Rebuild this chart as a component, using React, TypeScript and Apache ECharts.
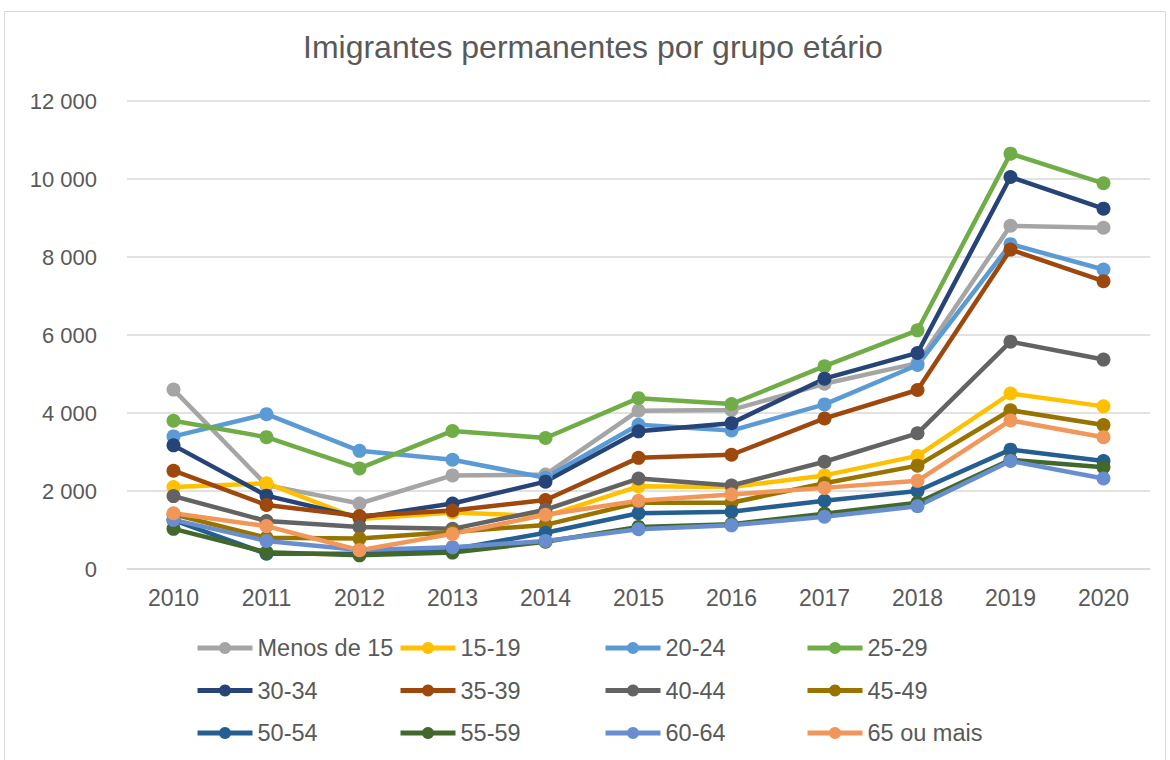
import React, { useEffect, useRef } from "react";
import * as echarts from "echarts";

const years = ["2010", "2011", "2012", "2013", "2014", "2015", "2016", "2017", "2018", "2019", "2020"];
const seriesNames = ["Menos de 15", "15-19", "20-24", "25-29", "30-34", "35-39", "40-44", "45-49", "50-54", "55-59", "60-64", "65 ou mais"];
const colors = ["#A5A5A5", "#FFC000", "#5B9BD5", "#70AD47", "#264478", "#9E480E", "#636363", "#997300", "#255E91", "#43682B", "#698ED0", "#F1975A"];

const menos15 = [4600, 2150, 1680, 2400, 2420, 4060, 4080, 4750, 5280, 8800, 8750];
const g15_19 = [2100, 2200, 1280, 1450, 1350, 2120, 2100, 2400, 2900, 4500, 4170];
const g20_24 = [3400, 3970, 3030, 2800, 2340, 3700, 3550, 4220, 5230, 8330, 7680];
const g25_29 = [3800, 3380, 2580, 3540, 3360, 4380, 4230, 5200, 6120, 10650, 9890];
const g30_34 = [3170, 1880, 1320, 1680, 2240, 3530, 3740, 4880, 5540, 10050, 9240];
const g35_39 = [2520, 1640, 1360, 1500, 1770, 2850, 2930, 3860, 4590, 8190, 7380];
const g40_44 = [1870, 1230, 1080, 1030, 1520, 2320, 2140, 2750, 3480, 5830, 5370];
const g45_49 = [1400, 800, 780, 950, 1130, 1700, 1700, 2200, 2650, 4070, 3690];
const g50_54 = [1250, 390, 400, 500, 930, 1430, 1470, 1750, 2000, 3060, 2770];
const g55_59 = [1030, 430, 350, 420, 700, 1080, 1150, 1420, 1700, 2800, 2610];
const g60_64 = [1260, 720, 490, 560, 720, 1020, 1120, 1340, 1610, 2770, 2320];
const g65mais = [1430, 1100, 480, 900, 1390, 1750, 1910, 2080, 2260, 3810, 3380];

const allData = [menos15, g15_19, g20_24, g25_29, g30_34, g35_39, g40_44, g45_49, g50_54, g55_59, g60_64, g65mais];

const fmt = (v: number) => String(v).replace(/\B(?=(\d{3})+(?!\d))/g, " ");

export default function App() {
  const ref = useRef<HTMLDivElement>(null);
  useEffect(() => {
    document.body.style.margin = "0";
    if (!ref.current) return;
    const chart = echarts.init(ref.current, undefined, { renderer: "svg" });
    const font = "Liberation Sans, Arial, sans-serif";
    const colLefts = [195, 398, 603, 805];
    const legends = colLefts.map((left, c) => ({
      orient: "vertical",
      left,
      top: 636,
      padding: 0,
      itemWidth: 55,
      itemHeight: 15,
      itemGap: 18.5,
      lineStyle: { width: 5 },
      data: [0, 1, 2].map((r) => seriesNames[r * 4 + c]),
      textStyle: { fontSize: 23.5, color: "#595959", fontFamily: font, lineHeight: 24 },
    }));
    chart.setOption({
      animation: false,
      backgroundColor: "#ffffff",
      title: {
        text: "Imigrantes permanentes por grupo etário",
        left: 303,
        top: 31,
        padding: 0,
        textStyle: { fontSize: 32, fontWeight: "normal", color: "#595959", fontFamily: font },
      },
      graphic: [
        {
          type: "rect",
          shape: { x: 4.5, y: 11.5, width: 1161, height: 760 },
          style: { fill: "none", stroke: "#D9D9D9", lineWidth: 1 },
          silent: true,
        },
      ],
      legend: legends,
      grid: { left: 127, right: 20, top: 101, bottom: 191, containLabel: false },
      xAxis: {
        type: "category",
        data: years,
        boundaryGap: true,
        axisLine: { show: true, lineStyle: { color: "#D9D9D9", width: 1.5 } },
        axisTick: { show: false },
        axisLabel: { fontSize: 23, color: "#595959", fontFamily: font, margin: 17 },
      },
      yAxis: {
        type: "value",
        min: 0,
        max: 12000,
        interval: 2000,
        axisLine: { show: false },
        axisTick: { show: false },
        splitLine: { lineStyle: { color: "#D9D9D9", width: 1.5 } },
        axisLabel: { fontSize: 22, color: "#595959", fontFamily: font, margin: 30, formatter: fmt },
      },
      series: seriesNames.map((name, i) => ({
        name,
        type: "line",
        data: allData[i],
        symbol: "circle",
        symbolSize: 14,
        lineStyle: { width: 4.5, color: colors[i] },
        itemStyle: { color: colors[i] },
        emphasis: { disabled: true },
      })),
    });
    return () => chart.dispose();
  }, []);
  return <div ref={ref} style={{ width: 1170, height: 760 }} />;
}
